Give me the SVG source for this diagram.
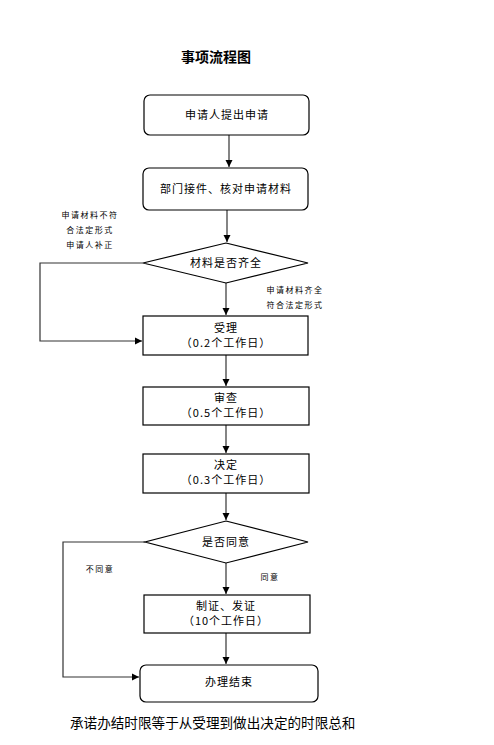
<svg xmlns="http://www.w3.org/2000/svg" width="494" height="745" viewBox="0 0 494 745">
<defs>
<marker id="ah" markerWidth="8" markerHeight="8" refX="7" refY="4" orient="auto" markerUnits="userSpaceOnUse">
<path d="M0,0.5 L7,4 L0,7.5 Z" fill="#000"/>
</marker>
<style>
.box{fill:#fff;stroke:#000;stroke-width:1.2}
.t{font-family:"Noto Sans CJK SC","Liberation Sans",sans-serif;font-size:11px;letter-spacing:1px;text-anchor:middle;fill:#000}
.s{font-family:"Noto Sans CJK SC","Liberation Sans",sans-serif;font-size:8px;letter-spacing:1.5px;text-anchor:middle;fill:#000}
.c{fill:none;stroke:#333;stroke-width:1.2}
</style>
</defs>
<rect width="494" height="745" fill="#fff"/>
<text x="216" y="62" font-family="'Noto Sans CJK SC',sans-serif" font-size="14" font-weight="bold" text-anchor="middle">事项流程图</text>

<g id="connectors">
<line class="c" x1="229" y1="135" x2="229" y2="167" marker-end="url(#ah)"/>
<line class="c" x1="227" y1="210" x2="227" y2="242" marker-end="url(#ah)"/>
<polyline class="c" points="143,263 40,263 40,341 142,341" marker-end="url(#ah)"/>
<line class="c" x1="226" y1="283" x2="226" y2="315" marker-end="url(#ah)"/>
<line class="c" x1="226" y1="355" x2="226" y2="386" marker-end="url(#ah)"/>
<line class="c" x1="226" y1="425" x2="226" y2="453" marker-end="url(#ah)"/>
<line class="c" x1="226" y1="493" x2="226" y2="520" marker-end="url(#ah)"/>
<polyline class="c" points="145,542 63,542 63,677 139,677" marker-end="url(#ah)"/>
<line class="c" x1="226" y1="563" x2="226" y2="594" marker-end="url(#ah)"/>
<line class="c" x1="226" y1="633" x2="226" y2="664" marker-end="url(#ah)"/>
</g>

<g id="n1"><rect class="box" x="144" y="95" width="165" height="40" rx="6"/><text class="t" x="227" y="119">申请人提出申请</text></g>
<g id="n2"><rect class="box" x="143" y="168" width="165" height="42" rx="6"/><text class="t" x="226" y="193">部门接件、核对申请材料</text></g>
<g id="n3"><polygon class="box" points="226,243 308,263 226,283 143,263"/><text class="t" x="226" y="267">材料是否齐全</text></g>
<g id="n4"><rect class="box" x="143" y="316" width="165" height="39"/><text class="t" x="226" y="332">受理</text><text class="t" x="226" y="347">（0.2个工作日）</text></g>
<g id="n5"><rect class="box" x="143" y="387" width="166" height="38"/><text class="t" x="226" y="402">审查</text><text class="t" x="226" y="417">（0.5个工作日）</text></g>
<g id="n6"><rect class="box" x="143" y="454" width="166" height="39"/><text class="t" x="226" y="469">决定</text><text class="t" x="226" y="484">（0.3个工作日）</text></g>
<g id="n7"><polygon class="box" points="226,521 308,542 226,563 145,542"/><text class="t" x="226" y="546">是否同意</text></g>
<g id="n8"><rect class="box" x="144" y="595" width="166" height="38"/><text class="t" x="226" y="610">制证、发证</text><text class="t" x="226" y="625">（10个工作日）</text></g>
<g id="n9"><rect class="box" x="140" y="665" width="178" height="37" rx="6"/><text class="t" x="229" y="686">办理结束</text></g>

<g id="labels">
<text class="s" x="90" y="218">申请材料不符</text>
<text class="s" x="90" y="233">合法定形式</text>
<text class="s" x="90" y="248">申请人补正</text>
<text class="s" x="295" y="293">申请材料齐全</text>
<text class="s" x="295" y="308">符合法定形式</text>
<text class="s" x="100" y="572">不同意</text>
<text class="s" x="270" y="580">同意</text>
</g>
<text x="70" y="728" font-family="'Noto Sans CJK SC',sans-serif" font-size="13.6">承诺办结时限等于从受理到做出决定的时限总和</text>
</svg>
